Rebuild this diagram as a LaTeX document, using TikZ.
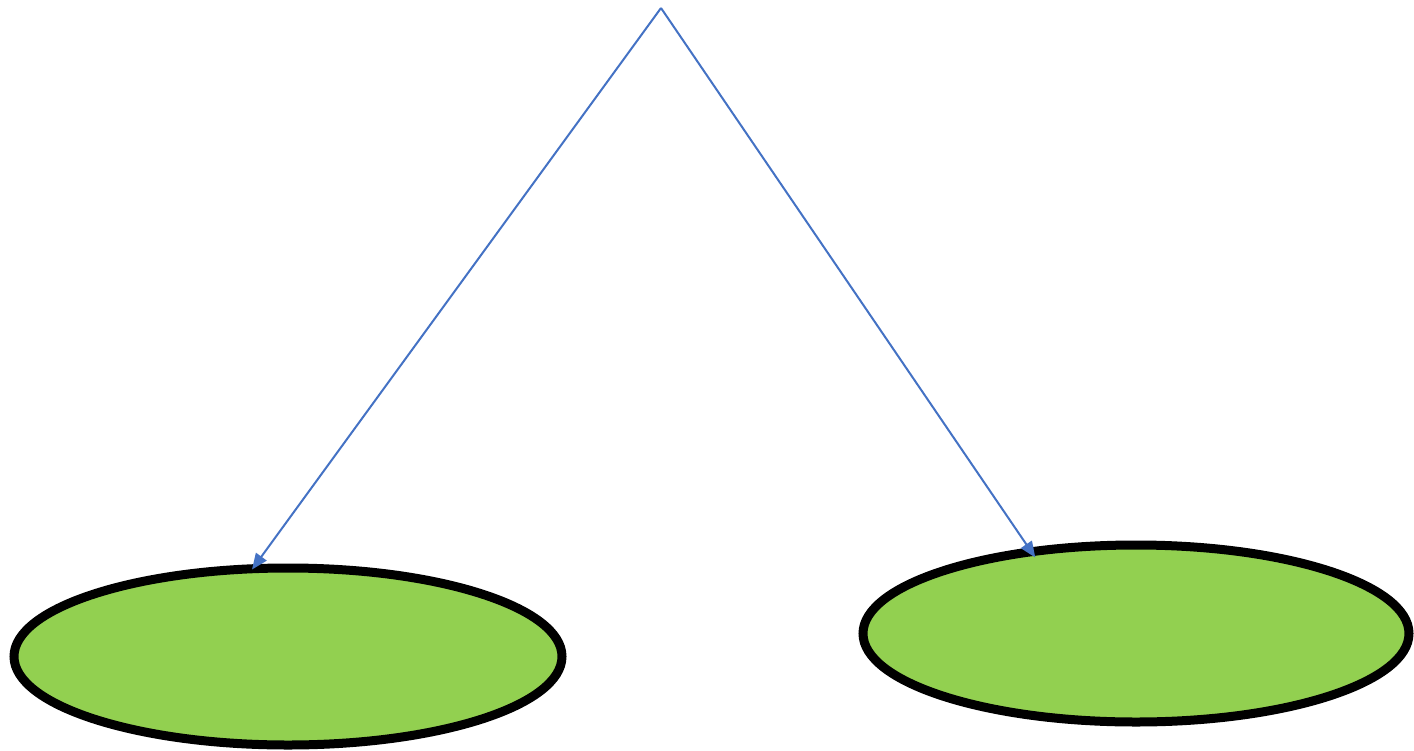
\documentclass[tikz,border=0pt]{standalone}
\usetikzlibrary{shapes.geometric,arrows.meta}
\definecolor{leafgreen}{RGB}{146,208,80}
\definecolor{linkblue}{RGB}{68,114,196}
\begin{document}
\begin{tikzpicture}[x=1pt,y=-1pt,
  blob/.style={ellipse,draw=black,fill=leafgreen,line width=9pt,outer sep=0pt,inner sep=0pt},
  link/.style={draw=linkblue,line width=2pt,-{Triangle[length=16pt,width=13pt]}}]
\useasboundingbox (0,0) rectangle (1414,750);
\coordinate (apex) at (661,8);
\node[blob,minimum width=548pt,minimum height=177pt] (L) at (288,656.5) {};
\node[blob,minimum width=546pt,minimum height=177pt] (R) at (1136,633.5) {};
\draw[link,shorten >=-1pt] (apex) -- (L.112.3);
\draw[link,shorten >=-7pt] (apex) -- (R.142);
\end{tikzpicture}
\end{document}
